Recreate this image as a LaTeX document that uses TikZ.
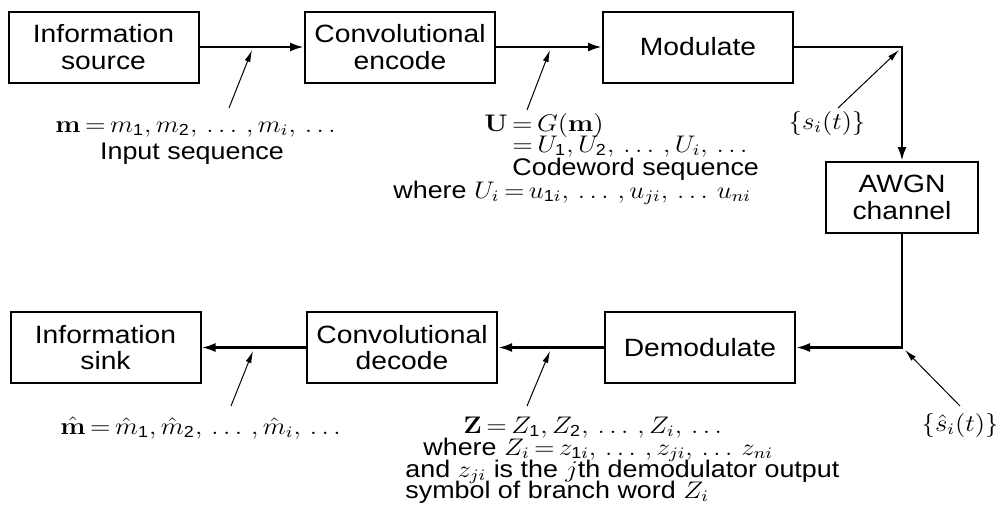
\documentclass[tikz,border=0pt]{standalone}
\usepackage{amsmath}
\usepackage{fontspec}
\setmainfont{Liberation Sans}
\newfontfamily\boxfont[FakeStretch=1.13]{Liberation Sans}
\DeclareMathAlphabet{\mbf}{OT1}{cmr}{bx}{n}
\newcommand{\dg}[1]{\text{#1}}
\newcommand{\sx}[1]{\scalebox{1.12}[1]{#1}}
\thickmuskip=3mu plus 2mu
\usetikzlibrary{arrows.meta}
\begin{document}
\begin{tikzpicture}[x=0.5pt,y=-0.5pt,
  font=\fontsize{12pt}{13pt}\selectfont,
  blk/.style={draw,line width=1pt,minimum width=95pt,minimum height=35.5pt,align=center,inner sep=0pt,font=\fontsize{12.5pt}{13.2pt}\boxfont},
  flow/.style={line width=1.3pt,-{Latex[length=7pt,width=4.5pt]}},
  ptr/.style={line width=0.5pt,-{Latex[length=6pt,width=3pt]}},
  lbl/.style={anchor=base west,inner sep=0pt}]
\useasboundingbox (0,0) rectangle (996,527);
% blocks
\node[blk] (src) at (103.5,47) {Information\\source};
\node[blk] (enc) at (400,47) {Convolutional\\encode};
\node[blk] (mod) at (698,47) {Modulate};
\node[blk,minimum width=76pt] (awgn) at (902,197.5) {AWGN\\channel};
\node[blk] (dem) at (700,347.5) {Demodulate};
\node[blk] (dec) at (402,347.5) {Convolutional\\decode};
\node[blk] (sink) at (105.5,347.5) {Information\\sink};
% flow
\draw[flow] (src) -- (enc);
\draw[flow] (enc) -- (mod);
\draw[flow] (mod.east) -| (awgn.north);
\draw[flow] (awgn.south) |- (dem.east);
\draw[flow] (dem) -- (dec);
\draw[flow] (dec) -- (sink);
% pointer ends
\coordinate (p1t) at (229,108); \coordinate (p1h) at (252,50);
\coordinate (p2t) at (527,110); \coordinate (p2h) at (550,50);
\coordinate (p3t) at (838,108); \coordinate (p3h) at (899,50);
\coordinate (p4t) at (231,406); \coordinate (p4h) at (253,351);
\coordinate (p5t) at (527,406); \coordinate (p5h) at (550,351);
\coordinate (p6t) at (960,406); \coordinate (p6h) at (905,350);
\draw[ptr] (p1t) -- (p1h);
\draw[ptr] (p2t) -- (p2h);
\draw[ptr] (p3t) -- (p3h);
\draw[ptr] (p4t) -- (p4h);
\draw[ptr] (p5t) -- (p5h);
\draw[ptr] (p6t) -- (p6h);
% labels top
\node[lbl] (lm) at (55,132) {\sx{$\mbf{m} = m_{\dg{1}}, m_{\dg{2}},\, \ldots\,, m_i,\, \ldots$}};
\node[anchor=base,inner sep=0pt] (lin) at (192,159) {\sx{Input sequence}};
\node[lbl] (lu) at (484,131) {\sx{$\mbf{U} = G(\mbf{m})$}};
\node[lbl] (lu2) at (512,152) {\sx{$= U_{\dg{1}}, U_{\dg{2}},\, \ldots\,, U_i,\, \ldots$}};
\node[lbl] (lcw) at (512,175) {\sx{Codeword sequence}};
\node[lbl] (lwu) at (393,198) {\sx{where $U_i = u_{\dg{1}i},\, \ldots\,, u_{ji},\, \ldots\, u_{ni}$}};
\node[inner sep=0pt] (ls) at (827,123) {\sx{$\{s_i(t)\}$}};
% labels bottom
\node[lbl] (lmh) at (60,434) {\sx{$\hat{\mbf{m}} = \hat{m}_{\dg{1}}, \hat{m}_{\dg{2}},\, \ldots\,, \hat{m}_i,\, \ldots$}};
\node[lbl] (lz) at (463,433) {\sx{$\mbf{Z} = Z_{\dg{1}}, Z_{\dg{2}},\, \ldots\,, Z_i,\, \ldots$}};
\node[lbl] (lwz) at (423,455) {\sx{where $Z_i = z_{\dg{1}i},\, \ldots\,, z_{ji},\, \ldots\, z_{ni}$}};
\node[lbl] (land) at (405,477) {\sx{and $z_{ji}$ is the $j$th demodulator output}};
\node[lbl] (lsym) at (405,498) {\sx{symbol of branch word $Z_i$}};
\node[inner sep=0pt] (lsh) at (960,425) {\sx{$\{\hat{s}_i(t)\}$}};
\end{tikzpicture}
\end{document}
